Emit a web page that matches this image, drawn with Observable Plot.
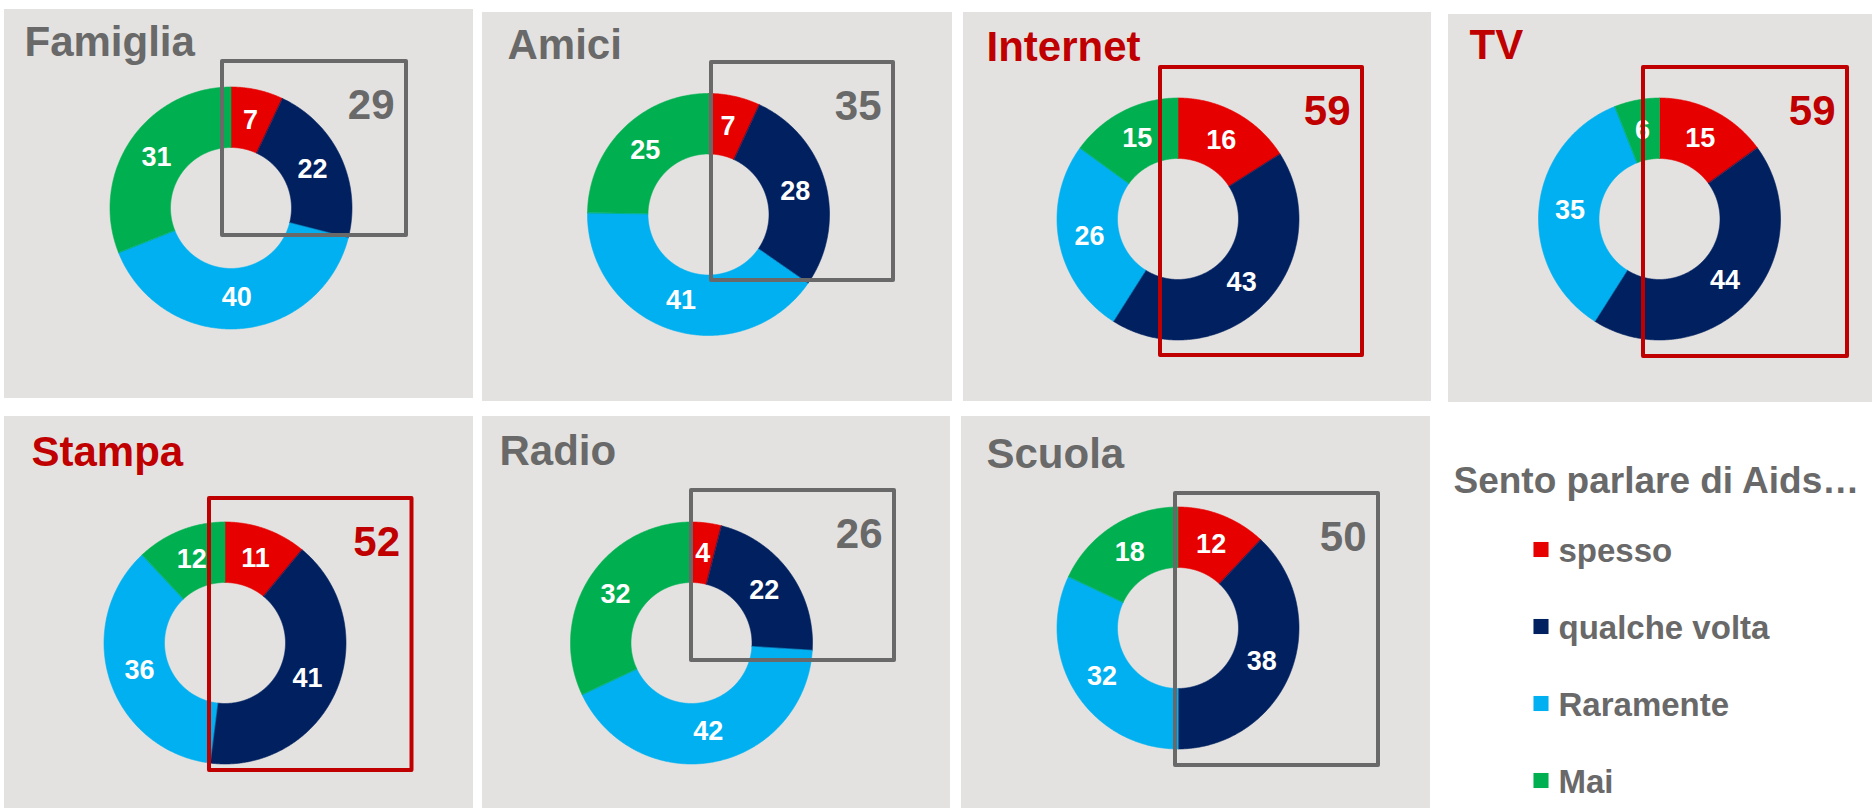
<!DOCTYPE html>
<html>
<head>
<meta charset="utf-8">
<script src="https://cdn.jsdelivr.net/npm/d3@7"></script>
<script src="https://cdn.jsdelivr.net/npm/@observablehq/plot@0.6"></script>
<style>
  html, body { margin: 0; padding: 0; background: #ffffff; }
  #chart svg { display: block; }
</style>
</head>
<body>
<div id="chart"></div>
<script>
// ---------------- DATA ----------------
const sources = ["Famiglia", "Amici", "Internet", "TV", "Stampa", "Radio", "Scuola"];
const categories = ["spesso", "qualche volta", "Raramente", "Mai"];
const spesso       = [7, 7, 16, 15, 11, 4, 12];
const qualcheVolta = [22, 28, 43, 44, 41, 22, 38];
const raramente    = [40, 41, 26, 35, 36, 42, 32];
const mai          = [31, 25, 15, 6, 12, 32, 18];
const boxTotals    = [29, 35, 59, 59, 52, 26, 50];
const highlighted  = [false, false, true, true, true, false, false];
const legendTitle  = "Sento parlare di Aids…";

// ---------------- LAYOUT / STYLE ----------------
const W = 1872, H = 808;
const FONT = "Liberation Sans, Arial, Helvetica, sans-serif";
const colors = ["#e60000", "#002060", "#00b0f0", "#00b050"];
const panelFill = "#e4e2e0";
const gray = "#696969", red = "#c00000";
const layout = [
  {bg: [4, 473, 9, 398],     title: [24, 55],   c: [230.5, 207.5],  box: [222, 406, 61, 235]},
  {bg: [482, 952, 12, 401],  title: [507, 58],  c: [708, 214],      box: [711, 893, 62, 280]},
  {bg: [963, 1431, 12, 401], title: [986, 60],  c: [1177.5, 218.5], box: [1160, 1362, 67, 355]},
  {bg: [1448, 1872, 14, 402],title: [1469, 58], c: [1659, 218.5],   box: [1643, 1847, 67, 356]},
  {bg: [4, 473, 416, 808],   title: [31, 465],  c: [224.5, 642.5],  box: [209, 411.5, 498, 770]},
  {bg: [482, 950, 416, 808], title: [499, 464], c: [691, 642.5],    box: [691, 894, 490, 660]},
  {bg: [961, 1430, 416, 808],title: [986, 467], c: [1177.5, 627.5], box: [1175, 1378, 493, 765]}
];
const rOuter = 121, rInner = 60.5, rLabel = 90;
const legendPos = {titleX: 1453, titleY: 492, dotX: 1540.5, textX: 1558, y0: 549, step: 77};

// ---------------- DERIVED TABLES ----------------
const panels = sources.map((s, i) => ({
  name: s, hi: highlighted[i], total: boxTotals[i],
  bx1: layout[i].bg[0], bx2: layout[i].bg[1], by1: layout[i].bg[2], by2: layout[i].bg[3],
  tx: layout[i].title[0], ty: layout[i].title[1],
  kx1: layout[i].box[0], kx2: layout[i].box[1], ky1: layout[i].box[2], ky2: layout[i].box[3]
}));

const arcPts = [];
const sliceLabels = [];
sources.forEach((s, i) => {
  const vals = [spesso[i], qualcheVolta[i], raramente[i], mai[i]];
  const tot = d3.sum(vals);
  const [cx, cy] = layout[i].c;
  let acc = 0;
  vals.forEach((v, k) => {
    const a0 = acc / tot * 2 * Math.PI;
    const a1 = (acc + v) / tot * 2 * Math.PI;
    acc += v;
    const n = Math.max(2, Math.ceil((a1 - a0) / (Math.PI / 360)));
    const id = s + "-" + k;
    for (let j = 0; j <= n; j++) {
      const a = a0 + (a1 - a0) * j / n;
      arcPts.push({id, cat: categories[k], x: cx + rOuter * Math.sin(a), y: cy - rOuter * Math.cos(a)});
    }
    for (let j = n; j >= 0; j--) {
      const a = a0 + (a1 - a0) * j / n;
      arcPts.push({id, cat: categories[k], x: cx + rInner * Math.sin(a), y: cy - rInner * Math.cos(a)});
    }
    const am = (a0 + a1) / 2;
    sliceLabels.push({x: cx + rLabel * Math.sin(am), y: cy - rLabel * Math.cos(am), text: String(v)});
  });
});

const legendRows = categories.map((c, i) => ({cat: c, y: legendPos.y0 + i * legendPos.step}));

// ---------------- PLOT ----------------
const titleMark = (rows, color) => Plot.text(rows, {
  x: "tx", y: "ty", text: "name", textAnchor: "start", lineAnchor: "bottom",
  fill: color, fontSize: 42, fontWeight: "bold", fontFamily: FONT
});
const boxMark = (rows, color) => Plot.rect(rows, {
  x1: "kx1", x2: "kx2", y1: "ky1", y2: "ky2", fill: "none",
  stroke: color, strokeWidth: 4, strokeLinejoin: "round"
});
const totalMark = (rows, color) => Plot.text(rows, {
  x: d => d.kx2 - 12, y: d => d.ky1 + 44, text: d => String(d.total),
  textAnchor: "end", lineAnchor: "middle",
  fill: color, fontSize: 42, fontWeight: "bold", fontFamily: FONT
});
const hiRows = panels.filter(d => d.hi), loRows = panels.filter(d => !d.hi);

const chart = Plot.plot({
  width: W, height: H,
  margin: 0, marginTop: 0, marginRight: 0, marginBottom: 0, marginLeft: 0,
  x: {domain: [0, W], range: [0, W], axis: null},
  y: {domain: [0, H], range: [0, H], axis: null},
  color: {domain: categories, range: colors},
  style: {background: "#ffffff", fontFamily: FONT},
  marks: [
    Plot.rect(panels, {x1: "bx1", x2: "bx2", y1: "by1", y2: "by2", fill: panelFill}),
    titleMark(loRows, gray),
    titleMark(hiRows, red),
    Plot.line(arcPts, {x: "x", y: "y", z: "id", fill: "cat", stroke: "cat", strokeWidth: 0.6, curve: "linear-closed"}),
    Plot.text(sliceLabels, {x: "x", y: "y", text: "text", fill: "white", fontSize: 27, fontWeight: "bold", fontFamily: FONT, lineAnchor: "middle"}),
    boxMark(loRows, gray),
    boxMark(hiRows, red),
    totalMark(loRows, gray),
    totalMark(hiRows, red),
    Plot.text([legendTitle], {x: legendPos.titleX, y: legendPos.titleY, text: d => d, textAnchor: "start", lineAnchor: "bottom",
      fill: gray, fontSize: 37, fontWeight: "bold", fontFamily: FONT}),
    Plot.dot(legendRows, {x: legendPos.dotX, y: "y", fill: "cat", symbol: "square", r: 8.5, stroke: null}),
    Plot.text(legendRows, {x: legendPos.textX, y: d => d.y + 2, text: "cat", textAnchor: "start", lineAnchor: "middle",
      fill: gray, fontSize: 33, fontWeight: "bold", fontFamily: FONT})
  ]
});
document.getElementById("chart").appendChild(chart);
</script>
</body>
</html>
